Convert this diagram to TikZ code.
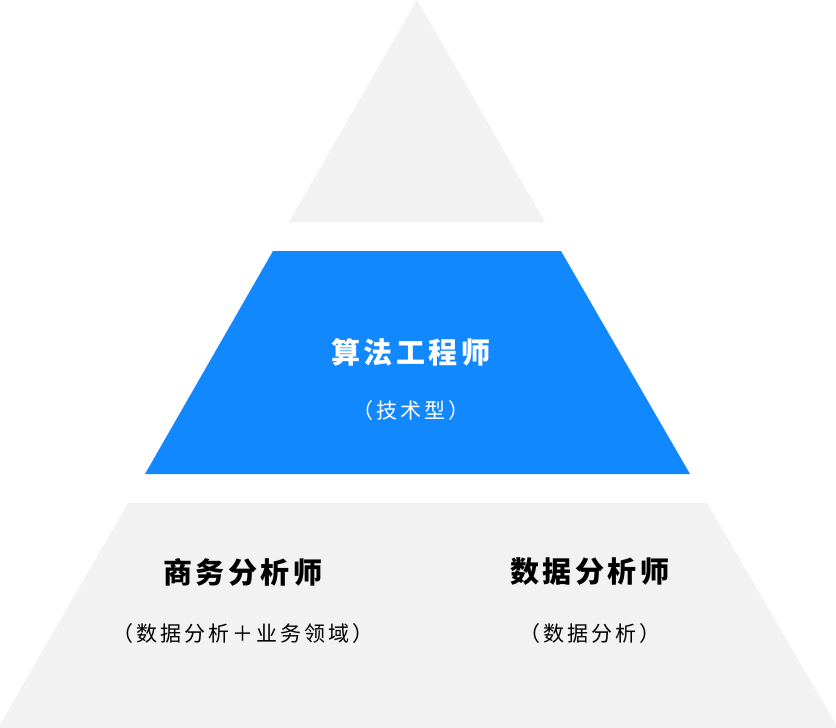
\documentclass[tikz,border=0pt]{standalone}
\usepackage{fontspec}
\newfontfamily\cjkrole[LetterSpace=12]{Noto Sans CJK SC}
\newfontfamily\cjkdetail[LetterSpace=14]{Noto Sans CJK SC}
\usepackage{tikz}
\usetikzlibrary{positioning}
\usepackage{xcolor}
\definecolor{layergray}{HTML}{F2F2F2}
\definecolor{layerblue}{HTML}{1288FF}

\begin{document}
\begin{tikzpicture}[
    x=1pt,y=-1pt,
    layer/.style={fill=layergray,draw=none},
    core/.style={fill=layerblue,draw=none},
    role/.style={inner sep=0pt,font=\cjkrole\bfseries\fontsize{29}{34}\selectfont},
    detail/.style={inner sep=0pt,font=\cjkdetail\fontsize{21}{25}\selectfont}
]
\useasboundingbox (0,0) rectangle (836,728);

% Pyramid cut into three bands, sides at 30 degrees to the vertical.
\coordinate (apex) at (417,0);
\fill[layer] (apex) -- (545,222) -- (289,222) -- cycle;
\fill[core] (273,251) -- (561,251) -- (690,474) -- (145,474) -- cycle;
\fill[layer] (128,503) -- (707,503) -- (838,728) -- (-2,728) -- cycle;

% Middle band.
\node[role,text=white] (algo) at (411,352) {算法工程师};
\node[detail,text=white] (algotype) at (411,411) {（技术型）};

% Bottom band, two roles side by side.
\node[role] (biz) at (243,572) {商务分析师};
\node[detail] (biztype) at (243,634) {（数据分析＋业务领域）};
\node[role] (data) at (590,572) {数据分析师};
\node[detail] (datatype) at (590,634) {（数据分析）};
\end{tikzpicture}
\end{document}
